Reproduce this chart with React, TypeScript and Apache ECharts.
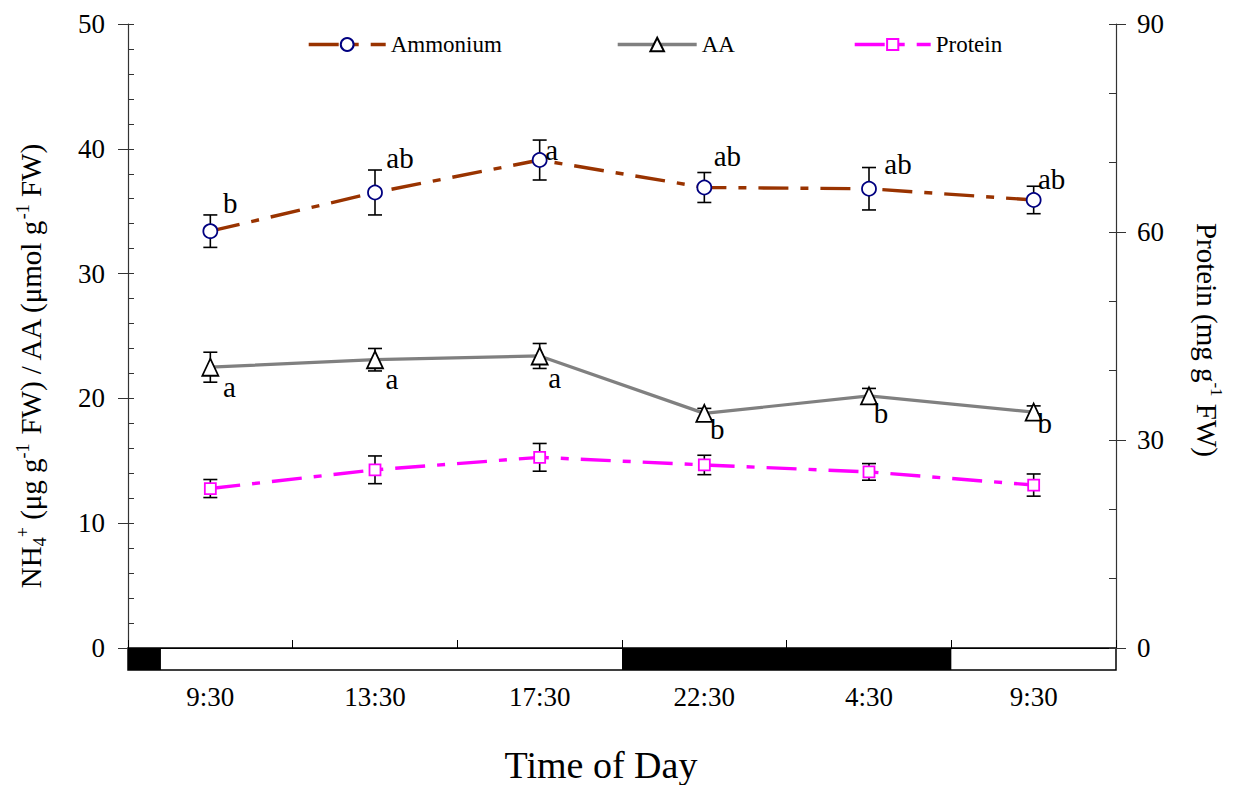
import React, { useEffect, useRef } from 'react';
import * as echarts from 'echarts';

const timeLabels = ['9:30', '13:30', '17:30', '22:30', '4:30', '9:30'];
const ammonium = [33.4, 36.5, 39.1, 36.9, 36.8, 35.9];
const ammoniumErr = [1.3, 1.8, 1.6, 1.2, 1.7, 1.1];
const ammoniumLetters = ['b', 'ab', 'a', 'ab', 'ab', 'ab'];
const aa = [22.5, 23.1, 23.4, 18.8, 20.2, 18.9];
const aaErr = [1.2, 0.9, 1.0, 0.4, 0.6, 0.5];
const aaLetters = ['a', 'a', 'a', 'b', 'b', 'b'];
const protein = [23.0, 25.7, 27.5, 26.4, 25.4, 23.5];
const proteinErr = [1.3, 2.0, 2.0, 1.4, 1.2, 1.6];
const darkPeriods = [[-0.5, -0.3], [2.5, 4.5]];

// label placement (pixels, relative to point)
const ammoniumLabelOffsets = [[20, -28], [25, -34], [12, -10], [23, -31], [29, -25], [18, -21]];
const aaLabelOffsets = [[19, 20], [17, 19], [15, 22], [13, 16], [12, 17], [11, 11]];

const FONT = "'Liberation Serif', 'Times New Roman', serif";

function errorBarSeries(name: string, vals: number[], errs: number[], yAxisIndex: number) {
  return {
    name,
    type: 'custom',
    xAxisIndex: 0,
    yAxisIndex,
    z: 1,
    silent: true,
    data: vals.map((v, i) => [i, v - errs[i], v + errs[i]]),
    encode: { x: 0, y: [1, 2] },
    renderItem: (params: any, api: any) => {
      const x = api.value(0);
      const p1 = api.coord([x, api.value(1)]);
      const p2 = api.coord([x, api.value(2)]);
      const hw = 7;
      const style = { stroke: '#000', lineWidth: 1.6 };
      return {
        type: 'group',
        children: [
          { type: 'line', shape: { x1: p1[0], y1: p1[1], x2: p2[0], y2: p2[1] }, style },
          { type: 'line', shape: { x1: p1[0] - hw, y1: p1[1], x2: p1[0] + hw, y2: p1[1] }, style },
          { type: 'line', shape: { x1: p2[0] - hw, y1: p2[1], x2: p2[0] + hw, y2: p2[1] }, style },
        ],
      };
    },
  };
}

export default function App() {
  const ref = useRef<HTMLDivElement>(null);
  useEffect(() => {
    if (!ref.current) return;
    const chart = echarts.init(ref.current, undefined, { renderer: 'svg' });
    const axisLabelStyle = { color: '#000', fontFamily: FONT, fontSize: 27 };
    const legendText = { color: '#000', fontFamily: FONT, fontSize: 23 };
    const option: any = {
      animation: false,
      backgroundColor: '#fff',
      grid: [
        { left: 128, right: 122, top: 24, height: 624 },
        { left: 128, right: 122, top: 648, height: 22, show: true, borderColor: '#000', borderWidth: 1.5, backgroundColor: '#fff', z: 0 },
      ],
      legend: [
        { left: 302, top: 28, itemWidth: 77, itemHeight: 16, itemGap: 0, data: ['Ammonium'], textStyle: legendText, selectedMode: false, lineStyle: { width: 3.4 } },
        { left: 611, top: 28, itemWidth: 79, itemHeight: 17, itemGap: 0, data: ['AA'], textStyle: legendText, selectedMode: false, lineStyle: { width: 3.4 } },
        { left: 848, top: 28, itemWidth: 76, itemHeight: 14, itemGap: 0, data: ['Protein'], textStyle: legendText, selectedMode: false, lineStyle: { width: 3.4 } },
      ],
      xAxis: [
        {
          type: 'category',
          gridIndex: 0,
          data: timeLabels,
          boundaryGap: true,
          axisLine: { show: true, lineStyle: { color: '#000', width: 1 } },
          axisTick: { show: true, inside: true, length: 8, interval: 0, lineStyle: { color: '#000' } },
          axisLabel: { ...axisLabelStyle, margin: 35, interval: 0 },
          splitLine: { show: false },
        },
        { type: 'value', gridIndex: 1, min: -0.5, max: 5.5, show: false },
      ],
      yAxis: [
        {
          type: 'value', gridIndex: 0, position: 'left', min: 0, max: 50, interval: 10,
          axisLine: { show: true, lineStyle: { color: '#333', width: 1.2 } },
          axisTick: { show: true, inside: false, length: 10, lineStyle: { color: '#333' } },
          axisLabel: { ...axisLabelStyle, margin: 23 },
          splitLine: { show: false },
        },
        {
          type: 'value', gridIndex: 0, position: 'right', min: 0, max: 90, interval: 30,
          axisLine: { show: true, lineStyle: { color: '#333', width: 1.2 } },
          axisTick: { show: true, inside: false, length: 10, lineStyle: { color: '#333' } },
          axisLabel: { ...axisLabelStyle, margin: 21 },
          splitLine: { show: false },
        },
        {
          type: 'value', gridIndex: 0, position: 'left', min: 0, max: 50, interval: 10,
          axisLine: { show: false },
          axisTick: { show: true, inside: true, length: 6, lineStyle: { color: '#333' } },
          minorTick: { show: true, splitNumber: 5, length: 6, lineStyle: { color: '#333' } },
          axisLabel: { show: false },
          splitLine: { show: false },
        },
        {
          type: 'value', gridIndex: 0, position: 'right', min: 0, max: 90, interval: 30,
          axisLine: { show: false },
          axisTick: { show: true, inside: true, length: 7, lineStyle: { color: '#333' } },
          minorTick: { show: true, splitNumber: 3, length: 7, lineStyle: { color: '#333' } },
          axisLabel: { show: false },
          splitLine: { show: false },
        },
        { type: 'value', gridIndex: 1, min: 0, max: 1, show: false },
      ],
      graphic: [
        {
          type: 'text', x: 601, y: 765,
          style: { text: 'Time of Day', fill: '#000', fontFamily: FONT, fontSize: 38, align: 'center', verticalAlign: 'middle', textAlign: 'center', textVerticalAlign: 'middle' },
        },
        {
          type: 'text', x: 31, y: 366, rotation: Math.PI / 2,
          style: {
            text: '{m|NH}{sub|4}{sup|+}{m| (μg g}{sup|-1}{m| FW) / AA (μmol g}{sup|-1}{m| FW)}',
            fill: '#000', fontFamily: FONT, fontSize: 29,
            align: 'center', verticalAlign: 'middle', textAlign: 'center', textVerticalAlign: 'middle',
            rich: {
              m: { fontFamily: FONT, fontSize: 29, fill: '#000', lineHeight: 35 },
              sub: { fontFamily: FONT, fontSize: 18, fill: '#000', verticalAlign: 'bottom' },
              sup: { fontFamily: FONT, fontSize: 18, fill: '#000', verticalAlign: 'top' },
            },
          },
        },
        {
          type: 'text', x: 1207, y: 340, rotation: -Math.PI / 2,
          style: {
            text: '{m|Protein (mg g}{sup|-1}{m| FW)}',
            fill: '#000', fontFamily: FONT, fontSize: 29,
            align: 'center', verticalAlign: 'middle', textAlign: 'center', textVerticalAlign: 'middle',
            rich: {
              m: { fontFamily: FONT, fontSize: 29, fill: '#000', lineHeight: 35 },
              sup: { fontFamily: FONT, fontSize: 17, fill: '#000', verticalAlign: 'top' },
            },
          },
        },
      ],
      series: [
        {
          type: 'custom',
          xAxisIndex: 1,
          yAxisIndex: 4,
          silent: true,
          data: darkPeriods,
          encode: { x: [0, 1] },
          renderItem: (params: any, api: any) => {
            const a = api.coord([api.value(0), 1]);
            const b = api.coord([api.value(1), 0]);
            return { type: 'rect', shape: { x: a[0], y: a[1], width: b[0] - a[0], height: b[1] - a[1] }, style: { fill: '#000' } };
          },
        },
        errorBarSeries('ammoniumErr', ammonium, ammoniumErr, 0),
        errorBarSeries('aaErr', aa, aaErr, 0),
        errorBarSeries('proteinErr', protein, proteinErr, 1),
        {
          name: 'Ammonium',
          type: 'line',
          xAxisIndex: 0,
          yAxisIndex: 0,
          z: 3,
          symbol: 'circle',
          symbolSize: 14,
          itemStyle: { color: '#fff', borderColor: '#000080', borderWidth: 1.8 },
          lineStyle: { color: '#993300', width: 3.4, type: [30, 12, 8, 12] },
          data: ammonium.map((v, i) => ({
            value: v,
            label: {
              show: true, position: 'inside', formatter: ammoniumLetters[i], offset: ammoniumLabelOffsets[i],
              color: '#000', fontFamily: FONT, fontSize: 29, align: 'center', verticalAlign: 'middle',
            },
          })),
        },
        {
          name: 'AA',
          type: 'line',
          xAxisIndex: 0,
          yAxisIndex: 0,
          z: 3,
          symbol: 'triangle',
          symbolSize: [16, 17],
          itemStyle: { color: '#fff', borderColor: '#000', borderWidth: 1.8 },
          lineStyle: { color: '#808080', width: 3.2 },
          data: aa.map((v, i) => ({
            value: v,
            label: {
              show: true, position: 'inside', formatter: aaLetters[i], offset: aaLabelOffsets[i],
              color: '#000', fontFamily: FONT, fontSize: 29, align: 'center', verticalAlign: 'middle',
            },
          })),
        },
        {
          name: 'Protein',
          type: 'line',
          xAxisIndex: 0,
          yAxisIndex: 1,
          z: 3,
          symbol: 'rect',
          symbolSize: 11,
          itemStyle: { color: '#fff', borderColor: '#ff00ff', borderWidth: 1.8 },
          lineStyle: { color: '#ff00ff', width: 3.4, type: [30, 12, 8, 12] },
          data: protein,
        },
      ],
    };
    chart.setOption(option);
    return () => chart.dispose();
  }, []);
  return <div ref={ref} style={{ width: 1238, height: 785, position: 'absolute', left: 0, top: 0 }} />;
}
